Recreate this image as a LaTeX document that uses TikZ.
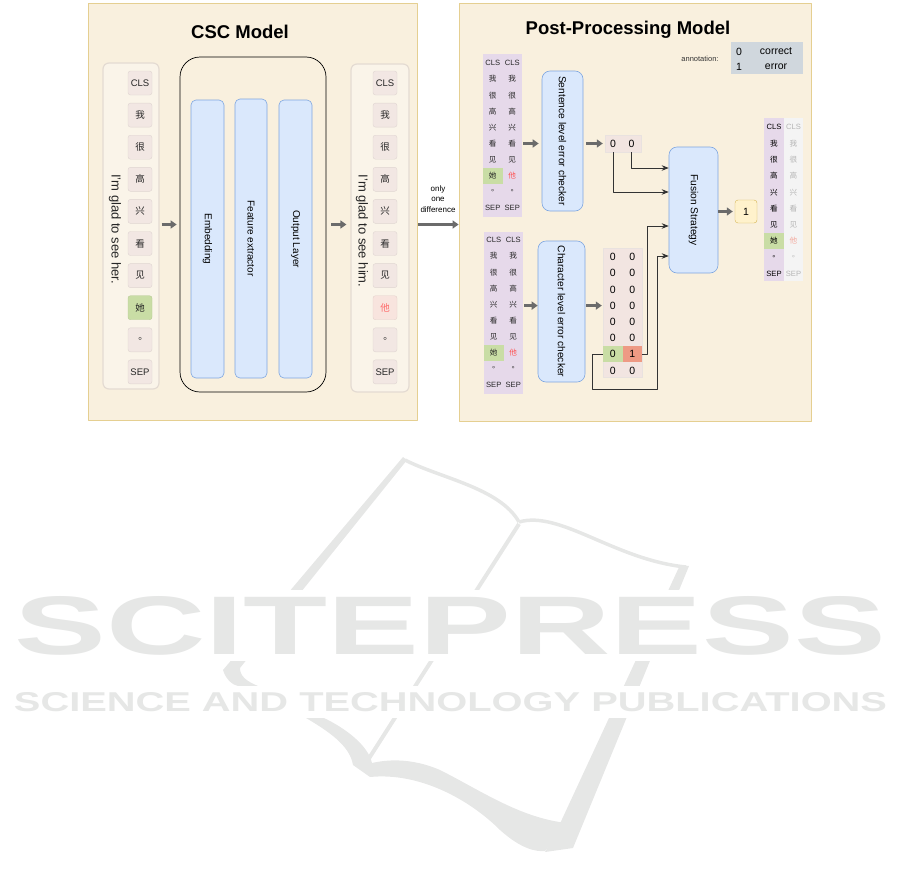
\documentclass[tikz,border=0pt]{standalone}
\usepackage{fontspec}
\usepackage{graphicx}
\setmainfont{Liberation Sans}
\newfontfamily\cjk{Noto Sans CJK SC}
\newfontfamily\cjkdot{Noto Sans CJK TC}
\newcommand\hanzi[1]{{\cjk #1}}
\newcommand\juhao{{\cjkdot 。}}
\usetikzlibrary{arrows.meta,calc}
\definecolor{panelfill}{HTML}{F9F0DE}
\definecolor{panelline}{HTML}{E5CF91}
\definecolor{tokfill}{HTML}{F2E7E3}
\definecolor{missfill}{HTML}{F8E4DE}
\definecolor{colfill}{HTML}{FAF4E9}
\definecolor{colline}{HTML}{E4DBD2}
\definecolor{bluefill}{HTML}{DAE8FC}
\definecolor{blueline}{HTML}{7EA6E0}
\definecolor{greenfill}{HTML}{C9DDA5}
\definecolor{purplefill}{HTML}{E6D9EA}
\definecolor{grayfill}{HTML}{F4F4F4}
\definecolor{outfill}{HTML}{F2E5E1}
\definecolor{salmon}{HTML}{EE9A84}
\definecolor{annofill}{HTML}{D0D7DD}
\definecolor{yellowfill}{HTML}{FFF2CC}
\definecolor{yellowline}{HTML}{D6B656}
\definecolor{arrowgray}{HTML}{6B6B6B}
\definecolor{wrongred}{HTML}{FF5050}
\definecolor{fadetext}{HTML}{B5B5B5}
\definecolor{fadered}{HTML}{F3A99E}
\definecolor{wmgray}{HTML}{E6E7E6}
\tikzset{
  panel/.style={draw=panelline, fill=panelfill, line width=.8pt, inner sep=0pt},
  title/.style={font=\fontsize{18.5}{20}\selectfont\bfseries},
  colbox/.style={draw=colline, fill=colfill, line width=1.2pt, rounded corners=6pt, inner sep=0pt},
  tok/.style={rounded corners=2.5pt, minimum width=24pt, minimum height=24pt, inner sep=0pt, font=\fontsize{9.5}{10}\selectfont},
  layer/.style={draw=blueline, fill=bluefill, rounded corners=5pt, line width=.6pt, inner sep=0pt, font=\fontsize{10}{12}\selectfont},
  checker/.style={draw=blueline, fill=bluefill, rounded corners=8pt, line width=.6pt, inner sep=0pt, font=\fontsize{10.2}{12}\selectfont},
  cell/.style={inner sep=0pt, minimum width=19.5pt, minimum height=16pt, font=\fontsize{7.6}{8}\selectfont, text=black!85},
  digit/.style={inner sep=0pt, minimum width=19.5pt, minimum height=16pt, font=\fontsize{10.5}{11}\selectfont},
  outbox/.style={draw=outfill!90!black!60, fill=outfill, line width=.4pt, inner sep=0pt},
  garrow/.style={draw=arrowgray, line width=2.6pt, -{Triangle[length=6pt,width=8pt]}},
  tarrow/.style={draw=black!80, line width=.7pt, -{Stealth[length=7pt,width=5.5pt]}},
}
\begin{document}
\begin{tikzpicture}[x=1pt, y=-1pt, line join=round]
\useasboundingbox (0,0) rectangle (901,886);
\node[panel, minimum width=329pt, minimum height=417pt] (cscpanel) at (252.5,211.5) {};
\node[panel, minimum width=352pt, minimum height=418pt] (pppanel) at (635,212) {};
\node[title] (csctitle) at (240,32) {CSC Model};
\node[title] (pptitle) at (628,30) {Post-Processing Model};

\node[colbox, minimum width=56pt, minimum height=326pt] (incol) at (131,226) {};
\node[colbox, minimum width=58pt, minimum height=328pt] (outcol) at (380,228) {};
\node[font=\fontsize{13}{15}\selectfont, text=black!85] (insent) at (115,229) {\rotatebox{-90}{I'm glad to see her.}};
\node[font=\fontsize{13}{15}\selectfont, text=black!85] (outsent) at (362,231) {\rotatebox{-90}{I'm glad to see him.}};
\foreach \t/\f/\c [count=\i] in {CLS/tokfill/black, \hanzi{我}/tokfill/black, \hanzi{很}/tokfill/black, \hanzi{高}/tokfill/black, \hanzi{兴}/tokfill/black, \hanzi{看}/tokfill/black, \hanzi{见}/tokfill/black, \hanzi{她}/greenfill/black, \juhao/tokfill/black, SEP/tokfill/black}
  \node[tok, fill=\f, draw=\f!92!black, text=\c!85] (in\i) at (140,{83+32.1*(\i-1)}) {\t};
\foreach \t/\f/\c [count=\i] in {CLS/tokfill/black, \hanzi{我}/tokfill/black, \hanzi{很}/tokfill/black, \hanzi{高}/tokfill/black, \hanzi{兴}/tokfill/black, \hanzi{看}/tokfill/black, \hanzi{见}/tokfill/black, \hanzi{他}/missfill/wrongred, \juhao/tokfill/black, SEP/tokfill/black}
  \node[tok, fill=\f, draw=\f!92!black, text=\c!85] (out\i) at (385,{83+32.1*(\i-1)}) {\t};

\node[draw, rounded corners=20pt, minimum width=146pt, minimum height=335pt, line width=.7pt, inner sep=0pt] (model) at (253,224.5) {};
\node[layer, minimum width=33pt, minimum height=278pt] (embed) at (207.5,239) {\rotatebox{-90}{Embedding}};
\node[layer, minimum width=32pt, minimum height=279pt] (feature) at (251,238.5) {\rotatebox{-90}{Feature extractor}};
\node[layer, minimum width=33pt, minimum height=278pt] (outlayer) at (295.5,239) {\rotatebox{-90}{Output Layer}};
\draw[garrow, shorten <=2pt, shorten >=3pt] (incol.east |- model.west) -- (model.west);
\draw[garrow, shorten <=5pt, shorten >=4pt] (model.east) -- (outcol.west |- model.east);

\draw[garrow, shorten <=1pt] (cscpanel.east |- model.east) -- (pppanel.west |- model.east);
\node[font=\fontsize{8}{10.5}\selectfont, align=center, inner sep=0pt] (diffnote) at (438,199) {only\\one\\difference};

\node[font=\fontsize{7.5}{9}\selectfont, text=black!80] (annolabel) at (700,59) {annotation:};
\node[fill=annofill, minimum width=72pt, minimum height=32pt, inner sep=0pt] (annobox) at (767,58) {};
\node[digit] (anno0) at (739,51.5) {0};
\node[digit] (annoc) at (776,51.5) {correct};
\node[digit] (anno1) at (739,67) {1};
\node[digit] (annoe) at (776,67) {error};

\node[fill=purplefill, minimum width=39pt, minimum height=163pt, inner sep=0pt] (senttab) at (502.5,135.5) {};
\foreach \a/\b/\f [count=\i] in {CLS/CLS/none, \hanzi{我}/\hanzi{我}/none, \hanzi{很}/\hanzi{很}/none, \hanzi{高}/\hanzi{高}/none, \hanzi{兴}/\hanzi{兴}/none, \hanzi{看}/\hanzi{看}/none, \hanzi{见}/\hanzi{见}/none, \hanzi{她}/\textcolor{wrongred}{\hanzi{他}}/greenfill, \juhao/\juhao/none, SEP/SEP/none}
{
  \node[cell, fill=\f] (sa\i) at (492.75,{63+16.1*(\i-1)}) {\a};
  \node[cell] (sb\i) at (512.25,{63+16.1*(\i-1)}) {\b};
}
\node[checker, minimum width=41pt, minimum height=140pt] (sentchk) at (562.5,141) {\rotatebox{-90}{Sentence level error checker}};
\node[outbox, minimum width=36pt, minimum height=17pt] (sentout) at (623,143.5) {};
\node[digit] (s0a) at (613,143.5) {0};
\node[digit] (s0b) at (631.5,143.5) {0};
\draw[garrow, shorten <=1pt, shorten >=3pt] (senttab.east |- sentout) -- (sentchk.west |- sentout);
\draw[garrow, shorten <=3pt, shorten >=2pt] (sentchk.east |- sentout) -- (sentout.west);

\node[fill=purplefill, minimum width=39pt, minimum height=162pt, inner sep=0pt] (chartab) at (503.5,313) {};
\foreach \a/\b/\f [count=\i] in {CLS/CLS/none, \hanzi{我}/\hanzi{我}/none, \hanzi{很}/\hanzi{很}/none, \hanzi{高}/\hanzi{高}/none, \hanzi{兴}/\hanzi{兴}/none, \hanzi{看}/\hanzi{看}/none, \hanzi{见}/\hanzi{见}/none, \hanzi{她}/\textcolor{wrongred}{\hanzi{他}}/greenfill, \juhao/\juhao/none, SEP/SEP/none}
{
  \node[cell, fill=\f] (ca\i) at (493.75,{240+16.1*(\i-1)}) {\a};
  \node[cell] (cb\i) at (513.25,{240+16.1*(\i-1)}) {\b};
}
\node[checker, minimum width=47pt, minimum height=141pt] (charchk) at (561.5,311.5) {\rotatebox{-90}{Character level error checker}};
\node[outbox, minimum width=39pt, minimum height=129pt] (chargrid) at (622.5,312.5) {};
\foreach \a/\b/\fa/\fb [count=\i] in {0/0/none/none, 0/0/none/none, 0/0/none/none, 0/0/none/none, 0/0/none/none, 0/0/none/none, 0/1/greenfill/salmon, 0/0/none/none}
{
  \node[digit, fill=\fa] (ga\i) at (612.75,{257+16.2*(\i-1)}) {\a};
  \node[digit, fill=\fb] (gb\i) at (632.25,{257+16.2*(\i-1)}) {\b};
}
\draw[garrow, shorten <=1pt] (chartab.east |- ga4) -- (charchk.west |- ga4);
\draw[garrow, shorten <=1pt, shorten >=1pt] (charchk.east |- ga4) -- (chargrid.west |- ga4);

\node[checker, minimum width=49pt, minimum height=126pt] (fusion) at (693.5,210) {\rotatebox{-90}{Fusion Strategy}};
\node[draw=yellowline, fill=yellowfill, rounded corners=3pt, minimum width=22pt, minimum height=23pt, inner sep=0pt, font=\fontsize{10.5}{11}\selectfont] (result) at (746,211.5) {1};
\draw[garrow, shorten >=2pt] (fusion.east |- result) -- (result.west);
\draw[tarrow] (s0b |- sentout.south) |- ($(fusion.west)+(0,-42)$);
\draw[tarrow] (s0a |- sentout.south) |- ($(fusion.west)+(0,-18)$);
\draw[tarrow] (gb7.east) -- ++(5,0) |- ($(fusion.west)+(0,16)$);
\coordinate (loopend) at (657,389);
\draw[tarrow] (ga7.west) -- ++(-10,0) |- (loopend) |- ($(fusion.west)+(0,46)$);

\node[fill=purplefill, minimum width=20pt, minimum height=163pt, inner sep=0pt] (finala) at (774,199.5) {};
\node[fill=grayfill, minimum width=19pt, minimum height=163pt, inner sep=0pt] (finalb) at (793.5,199.5) {};
\foreach \a/\b/\f [count=\i] in {CLS/CLS/none, \hanzi{我}/\hanzi{我}/none, \hanzi{很}/\hanzi{很}/none, \hanzi{高}/\hanzi{高}/none, \hanzi{兴}/\hanzi{兴}/none, \hanzi{看}/\hanzi{看}/none, \hanzi{见}/\hanzi{见}/none, \hanzi{她}/\textcolor{fadered}{\hanzi{他}}/greenfill, \juhao/\juhao/none, SEP/SEP/none}
{
  \node[cell, fill=\f, minimum width=20pt, text=black] (fa\i) at (774,{127+16.3*(\i-1)}) {\a};
  \node[cell, minimum width=19pt, text=fadetext] (fb\i) at (793.5,{127+16.3*(\i-1)}) {\b};
}

\fill[wmgray] (403,457) -- (407,460) -- (240,668) .. controls (240,676) and (246,681) .. (258,686) -- (238,686) .. controls (233,685) and (226,680) .. (223,670) -- cycle;
\draw[wmgray, line width=3.5pt] (405,460) .. controls (440,478) and (500,488) .. (519,522);
\draw[wmgray, line width=3.5pt] (519,522) .. controls (560,510) and (615,560) .. (686,567);
\fill[wmgray] (680,565) -- (689,566) -- (573,848) -- (545,852) -- (557,830) -- cycle;
\draw[wmgray, line width=4pt] (519,524) -- (366,763);
\fill[wmgray] (306,718) .. controls (335,735) and (350,748) .. (353,765) -- (370,777) .. controls (420,772) and (470,800) .. (500,830) .. controls (520,848) and (535,852) .. (545,851) -- (567,823) .. controls (520,818) and (480,790) .. (440,770) .. controls (410,757) and (385,760) .. (372,763) .. controls (368,745) and (345,728) .. (324,718) -- cycle;
\fill[white] (0,590) rectangle (901,661);
\fill[white] (0,686) rectangle (901,718);
\node[inner sep=0pt, text=wmgray] (wmname) at (450,626) {\resizebox{871pt}{58pt}{\bfseries SCITEPRESS}};
\node[inner sep=0pt, text=wmgray] (wmline) at (450.5,702.5) {\resizebox{873pt}{19pt}{\bfseries SCIENCE AND TECHNOLOGY PUBLICATIONS}};
\end{tikzpicture}
\end{document}
